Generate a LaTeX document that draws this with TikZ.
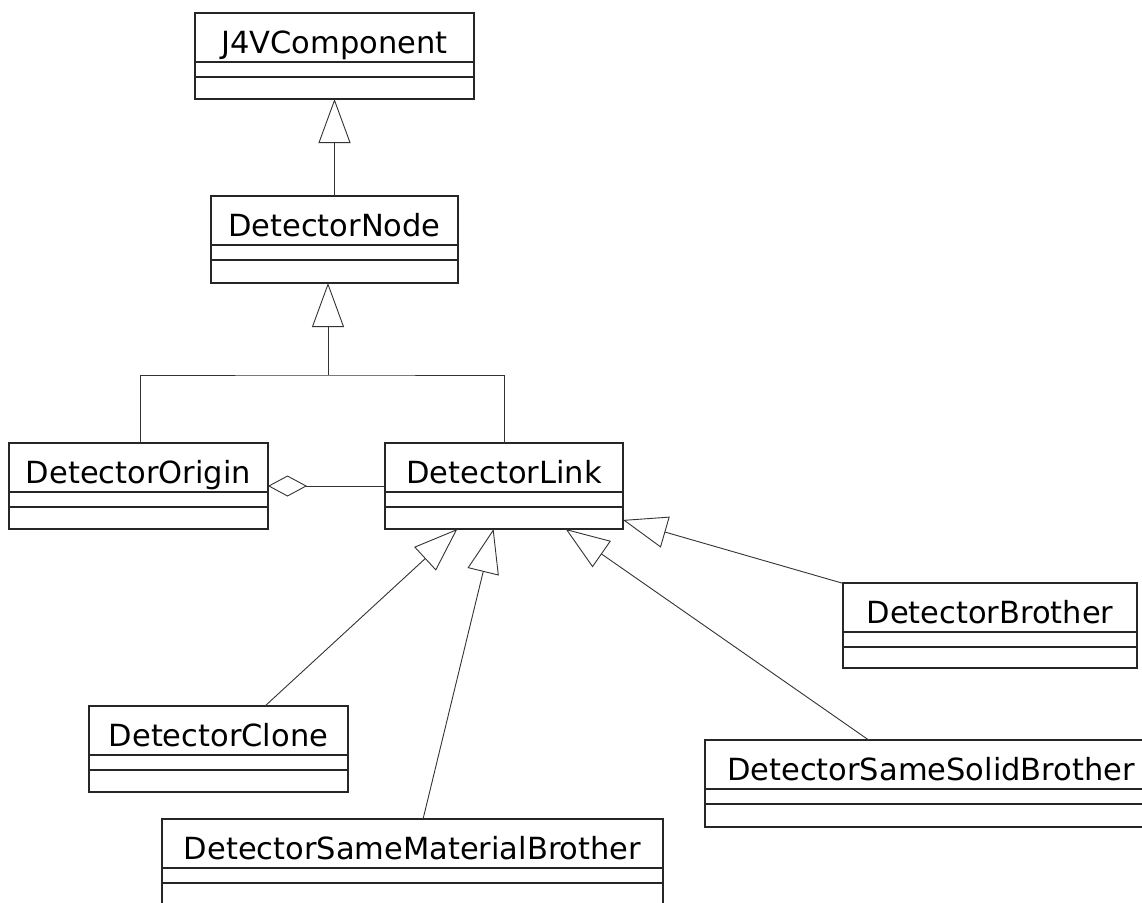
\documentclass[tikz,border=0pt]{standalone}
\usepackage{fontspec}
\setmainfont{DejaVu Sans}
\usetikzlibrary{arrows.meta,calc}
\tikzset{
  umlbox/.style={draw=black!85, line width=1.1pt, rectangle, inner sep=0pt, outer sep=0pt, anchor=north west},
  umltext/.style={anchor=base, inner sep=0pt, font=\fontsize{30.5}{36}\selectfont, text=black},
  umlline/.style={draw=black!85, line width=1.1pt},
  conn/.style={draw=black!80, line width=0.9pt},
  gen/.style={conn, -{Triangle[open, length=44pt, width=32pt]}},
  agg/.style={conn, -{Diamond[open, length=39pt, width=21pt]}},
}
\newcommand{\umlcls}[6]{%
  \pgfmathsetmacro{\clsW}{#4-#2}\pgfmathsetmacro{\clsH}{#5-#3}%
  \node[umlbox, minimum width=\clsW pt, minimum height=\clsH pt] (#1) at (#2,#3) {};
  \node[umltext] (#1-name) at ($(#1.north)+(0,40)$) {#6};
  \draw[umlline] ($(#1.north west)+(0,49)$) -- ($(#1.north east)+(0,49)$);
  \draw[umlline] ($(#1.north west)+(0,64)$) -- ($(#1.north east)+(0,64)$);
}
\begin{document}
\begin{tikzpicture}[x=1pt, y=-1pt]
\useasboundingbox (0,0) rectangle (1142,902);
\fill[white] (0,0) rectangle (1142,902);
\clip (0,0) rectangle (1142,902);
\umlcls{j4v}{195}{13}{474}{99}{J4VComponent}
\umlcls{dnode}{211}{196}{458}{283}{DetectorNode}
\umlcls{dorigin}{9}{443}{268}{529}{DetectorOrigin}
\umlcls{dlink}{385}{443}{623}{529}{DetectorLink}
\umlcls{dbrother}{843}{583}{1137}{668}{DetectorBrother}
\umlcls{dclone}{89}{706}{348}{792}{DetectorClone}
\umlcls{dsolid}{705}{740}{1157}{827}{DetectorSameSolidBrother}
\umlcls{dmat}{162}{819}{663}{906}{DetectorSameMaterialBrother}
% generalizations
\draw[gen] (dnode) -- (j4v);
\coordinate (nj) at (328,375);
\draw[conn] ($(dorigin.north)+(2,0)$) |- (nj) -| (dlink.north);
\draw[gen] (nj) -- (dnode.south -| nj);
\draw[agg] (dlink) -- (dorigin);
\draw[gen] (dclone) -- (dlink);
\draw[gen] (dmat) -- (dlink);
\draw[gen] (dsolid) -- (dlink);
\draw[gen] (dbrother) -- (dlink);
\end{tikzpicture}
\end{document}
